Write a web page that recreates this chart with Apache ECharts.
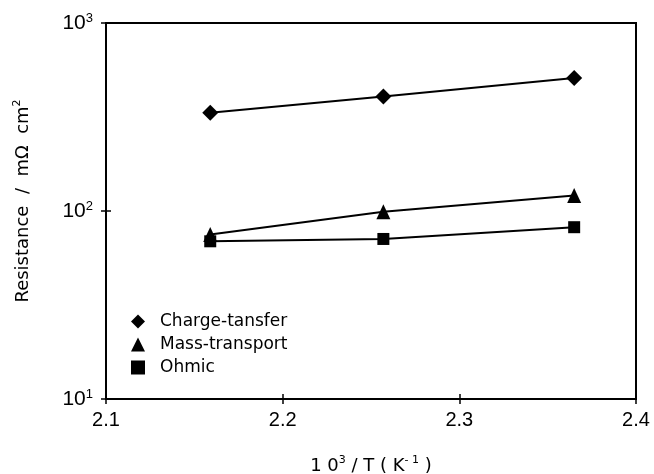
<!DOCTYPE html>
<html>
<head>
<meta charset="utf-8">
<script src="https://cdn.jsdelivr.net/npm/echarts@6/dist/echarts.min.js"></script>
<style>
  html, body { margin: 0; padding: 0; background: #fff; }
  #chart { width: 654px; height: 474px; }
</style>
</head>
<body>
<div id="chart"></div>
<script>
// 10^3/T values (K^-1)
var invT = [2.159, 2.257, 2.365];
// resistance, mOhm cm2
var chargeTransfer = [333, 407, 510];
var massTransport = [75, 99, 121];
var ohmic = [69, 71, 82];
var seriesNames = ['Charge-tansfer', 'Mass-transport', 'Ohmic'];

function pairs(ys) {
  return invT.map(function (x, i) { return [x, ys[i]]; });
}

var narrow = 'Liberation Sans Narrow, Arial Narrow, sans-serif';
var wide = 'DejaVu Sans, sans-serif';
var chart = echarts.init(document.getElementById('chart'));
chart.setOption({
  backgroundColor: '#ffffff',
  animation: false,
  grid: {
    left: 106, right: 18, top: 23, bottom: 75,
    outerBoundsMode: 'none',
    containLabel: false,
    show: true, borderColor: '#000', borderWidth: 2, backgroundColor: 'transparent'
  },
  legend: {
    orient: 'vertical',
    left: 126,
    top: 308,
    itemWidth: 14,
    itemHeight: 14,
    itemGap: 6,
    textStyle: { fontFamily: wide, fontSize: 17, color: '#000', padding: [0, 0, 0, 10] },
    data: [
      { name: seriesNames[0], icon: 'diamond' },
      { name: seriesNames[1], icon: 'triangle' },
      { name: seriesNames[2], icon: 'rect' }
    ]
  },
  xAxis: [{
    type: 'value',
    min: 2.1, max: 2.4, interval: 0.1,
    name: '{n|1 0}{s|3}{n| / T ( K}{s|- 1}{n| )}',
    nameLocation: 'middle',
    nameGap: 56,
    nameTextStyle: {
      rich: {
        n: { fontFamily: wide, fontSize: 18, color: '#000', lineHeight: 20, verticalAlign: 'bottom' },
        s: { fontFamily: wide, fontSize: 11, color: '#000', lineHeight: 20, verticalAlign: 'top' }
      }
    },
    axisLine: { lineStyle: { color: '#000', width: 2 } },
    axisTick: { show: true, length: 5, lineStyle: { color: '#000', width: 1.5 } },
    axisLabel: { fontFamily: narrow, fontSize: 20, color: '#000', margin: 11,
      formatter: function (v) { return v.toFixed(1); } },
    splitLine: { show: false }
  }, {
    type: 'value', position: 'bottom',
    min: 2.1, max: 2.4, interval: 0.1,
    axisLine: { show: false },
    axisTick: { show: true, inside: true, length: 5, lineStyle: { color: '#000', width: 1.5 } },
    axisLabel: { show: false },
    splitLine: { show: false }
  }],
  yAxis: [{
    type: 'log', logBase: 10,
    min: 10, max: 1000,
    name: '{n|Resistance  /  m\u03a9  cm}{s|2}',
    nameLocation: 'middle',
    nameGap: 74,
    nameTextStyle: {
      padding: [0, 0, 0, 20],
      rich: {
        n: { fontFamily: wide, fontSize: 18, color: '#000', lineHeight: 20, verticalAlign: 'bottom' },
        s: { fontFamily: wide, fontSize: 11, color: '#000', lineHeight: 20, verticalAlign: 'top' }
      }
    },
    axisLine: { lineStyle: { color: '#000', width: 2 } },
    axisTick: { show: true, length: 5, lineStyle: { color: '#000', width: 1.5 } },
    minorTick: { show: false },
    axisLabel: { margin: 13,
      formatter: function (v) {
        var p = Math.round(Math.log10(v));
        return '{b|10}{s|' + p + '}';
      },
      rich: {
        b: { fontFamily: narrow, fontSize: 21, color: '#000', lineHeight: 22, verticalAlign: 'bottom' },
        s: { fontFamily: narrow, fontSize: 13, color: '#000', lineHeight: 22, verticalAlign: 'top' }
      } },
    splitLine: { show: false }
  }, {
    type: 'log', logBase: 10, position: 'left',
    min: 10, max: 1000,
    axisLine: { show: false },
    axisTick: { show: true, inside: true, length: 5, lineStyle: { color: '#000', width: 1.5 } },
    axisLabel: { show: false },
    splitLine: { show: false }
  }],
  series: [{
    name: seriesNames[0], type: 'line',
    data: pairs(chargeTransfer),
    symbol: 'diamond', symbolSize: 16,
    itemStyle: { color: '#000' },
    lineStyle: { color: '#000', width: 2 }
  }, {
    name: seriesNames[1], type: 'line',
    data: pairs(massTransport),
    symbol: 'triangle', symbolSize: [14, 15],
    itemStyle: { color: '#000' },
    lineStyle: { color: '#000', width: 2 }
  }, {
    name: seriesNames[2], type: 'line',
    data: pairs(ohmic),
    symbol: 'rect', symbolSize: 12,
    itemStyle: { color: '#000' },
    lineStyle: { color: '#000', width: 2 }
  }]
});
</script>
</body>
</html>
